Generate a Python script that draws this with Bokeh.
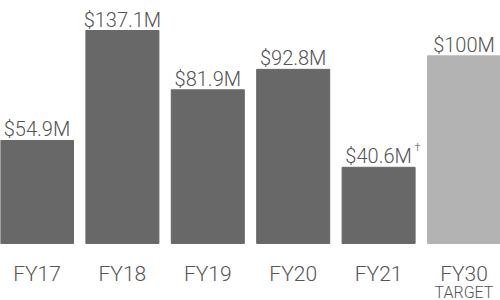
import numpy as np
from bokeh.plotting import figure
from bokeh.models import ColumnDataSource, Range1d
from bokeh.core.properties import value
from bokeh.embed import file_html
from bokeh.resources import INLINE

categories = ["FY17", "FY18", "FY19", "FY20", "FY21", "FY30"]
values = [54.9, 137.1, 81.9, 92.8, 40.6, 100.0]
labels = ["$54.9M", "$137.1M", "$81.9M", "$92.8M", "$40.6M", "$100M"]
sublabels = ["", "", "", "", "", "TARGET"]
footnotes = ["", "", "", "", "\u2020", ""]
colors = ["#686868", "#686868", "#686868", "#686868", "#686868", "#b3b3b3"]

# the tallest bar is drawn shortened (scale break) in the reference
display_cap = 113.5

FONT = "Roboto Light"
TXT = "#555555"

x = np.arange(len(categories))
tops = np.minimum(values, display_cap)
src = ColumnDataSource(dict(x=x, top=tops, label=labels, cat=categories,
                            sub=sublabels, fn=footnotes, color=colors))

p = figure(width=500, height=300, output_backend="svg", toolbar_location=None,
           x_range=Range1d(-0.4275, 5.4275), y_range=Range1d(-30.4, 129.5),
           min_border=0, outline_line_color=None)
p.axis.visible = False
p.grid.visible = False
p.background_fill_color = "white"
p.border_fill_color = "white"

p.vbar(x="x", top="top", bottom=0, width=0.855, fill_color="color",
       line_color="color", source=src)

p.text(x="x", y="top", text="label", source=src, text_align="center",
       text_baseline="alphabetic", y_offset=-11, text_font=value(FONT),
       text_font_size="20px", text_color=TXT)
p.text(x="x", y=0, text="cat", source=src, text_align="center",
       text_baseline="alphabetic", y_offset=31, text_font=value(FONT),
       text_font_size="21px", text_color=TXT)
p.text(x="x", y=0, text="sub", source=src, text_align="center",
       text_baseline="alphabetic", y_offset=49, text_font=value(FONT),
       text_font_size="16px", text_color=TXT)
p.text(x="x", y="top", text="fn", source=src, text_align="center",
       text_baseline="alphabetic", x_offset=39, y_offset=-20, text_font=value(FONT),
       text_font_size="11px", text_color=TXT)

open("out.html", "w").write(file_html(p, INLINE))
